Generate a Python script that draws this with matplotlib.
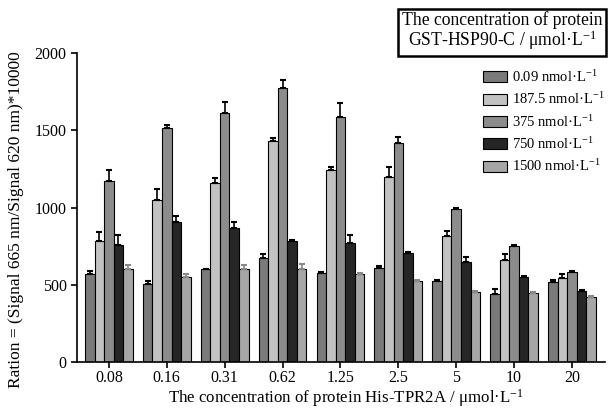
import matplotlib
matplotlib.use("Agg")
import matplotlib.pyplot as plt
import numpy as np

plt.rcParams.update({
    "font.family": "Liberation Serif",
    "mathtext.fontset": "custom",
    "mathtext.rm": "Liberation Serif",
    "mathtext.it": "Liberation Serif:italic",
    "font.size": 11,
})

# His-TPR2A concentrations (x categories)
categories = ["0.08", "0.16", "0.31", "0.62", "1.25", "2.5", "5", "10", "20"]

# GST-HSP90-C series
series_labels = [
    "0.09 nmol·L$^{-1}$",
    "187.5 nmol·L$^{-1}$",
    "375 nmol·L$^{-1}$",
    "750 nmol·L$^{-1}$",
    "1500 nmol·L$^{-1}$",
]
series_colors = ["#7a7a7a", "#c2c2c2", "#8c8c8c", "#262626", "#a6a6a6"]
cap_colors = ["black", "black", "black", "black", "#888888"]

vals_009 = [570, 505, 600, 670, 575, 610, 525, 440, 520]
vals_1875 = [780, 1050, 1160, 1430, 1240, 1195, 815, 660, 545]
vals_375 = [1170, 1515, 1610, 1775, 1585, 1420, 990, 750, 580]
vals_750 = [760, 905, 865, 780, 770, 705, 650, 550, 460]
vals_1500 = [600, 550, 605, 605, 570, 525, 455, 445, 420]

err_009 = [20, 20, 5, 30, 10, 10, 5, 30, 10]
err_1875 = [60, 70, 30, 20, 25, 70, 30, 40, 25]
err_375 = [70, 20, 70, 50, 90, 35, 10, 5, 10]
err_750 = [60, 40, 40, 10, 50, 5, 30, 5, 5]
err_1500 = [25, 20, 20, 30, 5, 5, 5, 10, 10]

values = [vals_009, vals_1875, vals_375, vals_750, vals_1500]
errors = [err_009, err_1875, err_375, err_750, err_1500]

W, H = 608, 409
fig = plt.figure(figsize=(W / 100, H / 100), dpi=100)
ax = fig.add_axes([77 / W, (H - 362) / H, (605 - 77) / W, (362 - 53) / H])

x = np.arange(len(categories))
width = 0.165
for i, (v, e) in enumerate(zip(values, errors)):
    pos = x + (i - 2) * width
    ax.bar(pos, v, width, color=series_colors[i], edgecolor="black",
           linewidth=0.8, label=series_labels[i], zorder=2)
    ax.errorbar(pos, v, yerr=[np.zeros(len(e)), e], fmt="none",
                ecolor=cap_colors[i], elinewidth=1.2, capsize=2.5,
                capthick=1.5, zorder=3)

ax.set_xlim(-0.55, 8.57)
ax.set_ylim(0, 2000)
ax.set_yticks([0, 500, 1000, 1500, 2000])
ax.set_xticks(x)
ax.set_xticklabels(categories)
for s in ["top", "right"]:
    ax.spines[s].set_visible(False)
ax.spines["left"].set_linewidth(1.2)
ax.spines["bottom"].set_linewidth(1.2)
ax.tick_params(direction="out", length=4, width=1.2, labelsize=11.5)
ax.tick_params(axis="x", pad=2)

ax.set_xlabel("The concentration of protein His-TPR2A / μmol·L$^{-1}$",
              fontsize=12.2)
ax.xaxis.set_label_coords((346 - 77) / (605 - 77), -0.081)
ax.set_ylabel("Ration = (Signal 665 nm/Signal 620 nm)*10000", fontsize=12.5)
ax.yaxis.set_label_coords(-0.10, 0.46)

fig.text(502 / W, 1 - 31.5 / H,
         "The concentration of protein\nGST-HSP90-C / μmol·L$^{-1}$",
         ha="center", va="center", fontsize=12.7, linespacing=1.0,
         bbox=dict(boxstyle="square,pad=0.2", facecolor="white",
                   edgecolor="black", linewidth=1.8))

leg = ax.legend(loc="upper left", bbox_to_anchor=(483 / W, 1 - 69 / H),
                bbox_transform=fig.transFigure, frameon=False,
                fontsize=10.5, handlelength=1.65, handleheight=0.8,
                labelspacing=0.44, handletextpad=0.35,
                borderpad=0, borderaxespad=0)

fig.savefig("out.png", dpi=100)
